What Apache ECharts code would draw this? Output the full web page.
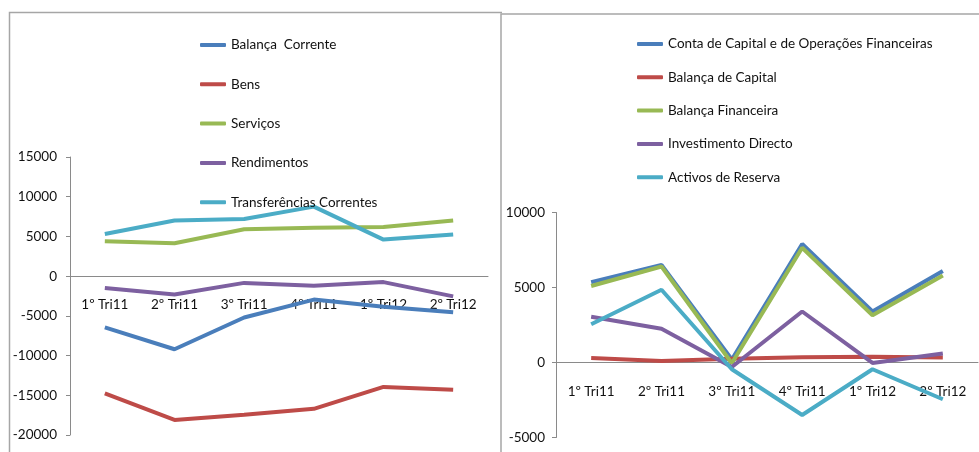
<!DOCTYPE html>
<html>
<head>
<meta charset="utf-8">
<script src="https://cdn.jsdelivr.net/npm/echarts@6/dist/echarts.min.js"></script>
<style>
  html, body { margin: 0; padding: 0; background: #fff; }
  #chart { width: 979px; height: 452px; }
</style>
</head>
<body>
<div id="chart"></div>
<script>
// categories shared by both panels
const quarters = ['1º Tri11', '2º Tri11', '3º Tri11', '4º Tri11', '1º Tri12', '2º Tri12']

// left panel: balança corrente
const balancaCorrente = [-6450, -9200, -5200, -2950, -3850, -4550]
const bens = [-14750, -18100, -17450, -16700, -13950, -14300]
const servicos = [4400, 4150, 5900, 6100, 6200, 7000]
const rendimentos = [-1500, -2300, -850, -1200, -750, -2550]
const transferencias = [5300, 7000, 7200, 8750, 4600, 5250]

// right panel: conta de capital e financeira
const contaCapitalFin = [5350, 6500, 200, 7900, 3400, 6100]
const balancaCapital = [300, 100, 250, 350, 380, 330]
const balancaFinanceira = [5100, 6400, -50, 7650, 3150, 5800]
const investimentoDirecto = [3050, 2250, -300, 3400, -30, 600]
const activosReserva = [2550, 4850, -450, -3500, -450, -2450]

const leftTicks = { min: -20000, max: 15000, interval: 5000 }
const rightTicks = { min: -5000, max: 10000, interval: 5000 }

const colors = ['#4a7ebb', '#be4b48', '#98b954', '#7d60a0', '#4bacc6']
const font = 'Lato, "Liberation Sans", sans-serif'
const fontSize = 13.5

const chart = echarts.init(document.getElementById('chart'))

// x axis sits on the zero line, so shift it up from the grid bottom
function xAxis(gridIndex, offset) {
  return {
    type: 'category',
    gridIndex,
    data: quarters,
    boundaryGap: true,
    offset,
    axisLine: { onZero: false, lineStyle: { color: '#8a8a8a', width: 1 } },
    axisTick: { length: 5, lineStyle: { color: '#8a8a8a' } },
    axisLabel: { color: '#111', fontFamily: font, fontSize, margin: 22, interval: 0 },
    splitLine: { show: false }
  }
}

function yAxis(gridIndex, ticks, margin) {
  return {
    type: 'value',
    gridIndex,
    min: ticks.min,
    max: ticks.max,
    interval: ticks.interval,
    axisLine: { show: true, lineStyle: { color: '#8a8a8a', width: 1 } },
    axisTick: { show: true, length: 4, lineStyle: { color: '#8a8a8a' } },
    axisLabel: { color: '#111', fontFamily: font, fontSize, margin, formatter: v => String(v) },
    splitLine: { show: false }
  }
}

function line(name, data, idx, color) {
  return {
    name,
    type: 'line',
    xAxisIndex: idx,
    yAxisIndex: idx,
    data,
    symbol: 'none',
    color,
    lineStyle: { width: 4, color },
    emphasis: { disabled: true }
  }
}

function legend(left, top, gap, names) {
  return {
    orient: 'vertical',
    left,
    top,
    icon: 'roundRect',
    itemWidth: 26,
    itemHeight: 4,
    itemGap: gap,
    textStyle: { fontFamily: font, fontSize, color: '#111' },
    data: names
  }
}

const option = {
  animation: false,
  grid: [
    { left: 70, right: 491, top: 157, bottom: 17, containLabel: false, outerBoundsMode: 'none' },
    { left: 556, right: 1, top: 212.5, bottom: 14.5, containLabel: false, outerBoundsMode: 'none' }
  ],
  xAxis: [xAxis(0, -158.9), xAxis(1, -75)],
  yAxis: [yAxis(0, leftTicks, 13), yAxis(1, rightTicks, 11)],
  legend: [
    legend(195, 33, 25.3, ['Balança  Corrente', 'Bens', 'Serviços', 'Rendimentos', 'Transferências Correntes']),
    legend(632, 32, 19.3, ['Conta de Capital e de Operações Financeiras', 'Balança de Capital',
      'Balança Financeira', 'Investimento Directo', 'Activos de Reserva'])
  ],
  graphic: [
    { type: 'polyline', shape: { points: [[9.5, 452], [9.5, 12.5], [502, 12.5]] },
      style: { stroke: '#a6a6a6', lineWidth: 1.5, fill: null }, silent: true },
    { type: 'polyline', shape: { points: [[501, 452], [501, 14], [979, 14]] },
      style: { stroke: '#a6a6a6', lineWidth: 1.5, fill: null }, silent: true }
  ],
  series: [
    line('Balança  Corrente', balancaCorrente, 0, colors[0]),
    line('Bens', bens, 0, colors[1]),
    line('Serviços', servicos, 0, colors[2]),
    line('Rendimentos', rendimentos, 0, colors[3]),
    line('Transferências Correntes', transferencias, 0, colors[4]),
    line('Conta de Capital e de Operações Financeiras', contaCapitalFin, 1, colors[0]),
    line('Balança de Capital', balancaCapital, 1, colors[1]),
    line('Balança Financeira', balancaFinanceira, 1, colors[2]),
    line('Investimento Directo', investimentoDirecto, 1, colors[3]),
    line('Activos de Reserva', activosReserva, 1, colors[4])
  ]
}

chart.setOption(option)
</script>
</body>
</html>
